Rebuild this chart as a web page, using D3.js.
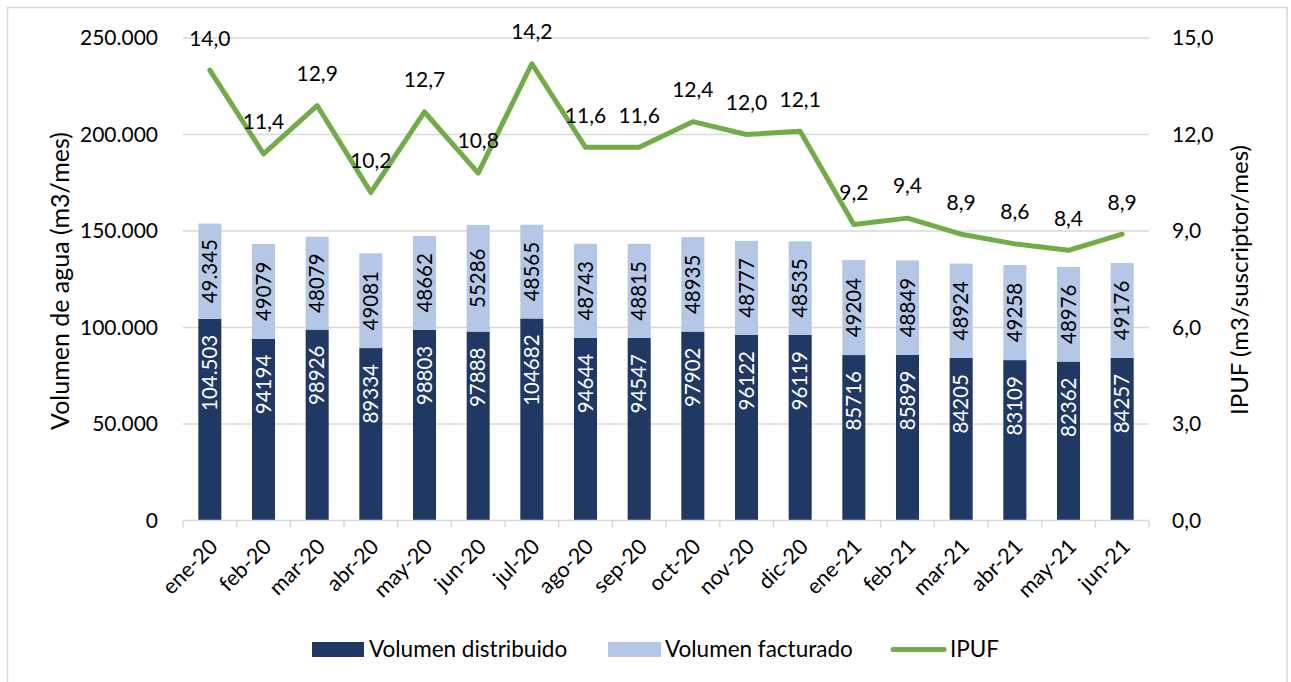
<!DOCTYPE html>
<html><head><meta charset="utf-8">
<script src="https://cdn.jsdelivr.net/npm/d3@7"></script>
<style>
html,body{margin:0;padding:0;background:#fff;}
svg{display:block;font-family:Lato, "Open Sans", sans-serif;}
</style></head>
<body>
<svg id="chart" width="1291" height="682"></svg>
<script>
const months = ["ene-20","feb-20","mar-20","abr-20","may-20","jun-20","jul-20","ago-20","sep-20","oct-20","nov-20","dic-20","ene-21","feb-21","mar-21","abr-21","may-21","jun-21"];
const distribuido = [104503,94194,98926,89334,98803,97888,104682,94644,94547,97902,96122,96119,85716,85899,84205,83109,82362,84257];
const facturado = [49345,49079,48079,49081,48662,55286,48565,48743,48815,48935,48777,48535,49204,48849,48924,49258,48976,49176];
const ipuf = [14.0,11.4,12.9,10.2,12.7,10.8,14.2,11.6,11.6,12.4,12.0,12.1,9.2,9.4,8.9,8.6,8.4,8.9];
const leftTicks = [0,50000,100000,150000,200000,250000];
const rightTicks = [0,3,6,9,12,15];
const seriesNames = ["Volumen distribuido","Volumen facturado","IPUF"];
const colors = {dark:"#203864", light:"#B4C7E7", green:"#70AD47", grid:"#D9D9D9"};

const loc = d3.formatLocale({decimal:",", thousands:".", grouping:[3], currency:["$",""]});
const fmtThousands = loc.format(",.0f");
const fmt1 = loc.format(".1f");
const fmtPlain = d3.format("d");

const svg = d3.select("#chart");
svg.append("rect").attr("x",0).attr("y",0).attr("width",1291).attr("height",682).attr("fill","#fff");
svg.append("rect").attr("x",7.5).attr("y",7.5).attr("width",1279.5).attr("height",700)
  .attr("fill","none").attr("stroke","#D9D9D9").attr("stroke-width",1.5);

const pLeft = 183, pRight = 1149, pTop = 38, pBottom = 520.5;
const x = d3.scaleBand().domain(months).range([pLeft,pRight]).paddingInner(0.571).paddingOuter(0.2855);
const yL = d3.scaleLinear().domain([0,250000]).range([pBottom,pTop]);
const yR = d3.scaleLinear().domain([0,15]).range([pBottom,pTop]);
const fsTick = 21, fsBar = 20.5, fsLine = 21, fsX = 21.5, fsLeg = 22.5;

// gridlines
svg.append("g").selectAll("line").data(leftTicks.filter(d=>d>0)).join("line")
  .attr("x1",pLeft).attr("x2",pRight).attr("y1",d=>yL(d)).attr("y2",d=>yL(d))
  .attr("stroke",colors.grid).attr("stroke-width",1.3);

// left axis
const gL = svg.append("g").attr("transform",`translate(${pLeft-25},0)`)
  .call(d3.axisLeft(yL).tickValues(leftTicks).tickFormat(fmtThousands).tickSize(0).tickPadding(0));
gL.select(".domain").remove();
gL.selectAll("text").attr("font-size",fsTick).attr("font-family","Lato").attr("fill","#000");

// right axis
const gR = svg.append("g").attr("transform",`translate(${pRight+23},0)`)
  .call(d3.axisRight(yR).tickValues(rightTicks).tickFormat(fmt1).tickSize(0).tickPadding(0));
gR.select(".domain").remove();
gR.selectAll("text").attr("font-size",fsTick).attr("font-family","Lato").attr("fill","#000");

// bars
const step = x.step();
const bars = svg.append("g");
bars.selectAll("rect.d").data(months).join("rect").attr("class","d")
  .attr("x",d=>x(d)).attr("width",x.bandwidth())
  .attr("y",(d,i)=>yL(distribuido[i])).attr("height",(d,i)=>yL(0)-yL(distribuido[i]))
  .attr("fill",colors.dark);
bars.selectAll("rect.f").data(months).join("rect").attr("class","f")
  .attr("x",d=>x(d)).attr("width",x.bandwidth())
  .attr("y",(d,i)=>yL(distribuido[i]+facturado[i])).attr("height",(d,i)=>yL(distribuido[i])-yL(distribuido[i]+facturado[i]))
  .attr("fill",colors.light);

// x axis line + ticks
const gX = svg.append("g").attr("transform",`translate(0,${pBottom})`)
  .call(d3.axisBottom(x).tickSize(0).tickFormat(""));
gX.select(".domain").attr("stroke",colors.grid).attr("stroke-width",1.5).attr("d",`M${pLeft},0H${pRight}`);
gX.selectAll(".tick").remove();
const bounds = d3.range(months.length+1).map(i=>pLeft+i*step);
svg.append("g").selectAll("line").data(bounds).join("line")
  .attr("x1",d=>d).attr("x2",d=>d).attr("y1",pBottom).attr("y2",pBottom+7)
  .attr("stroke",colors.grid).attr("stroke-width",1.5);

// x labels
svg.append("g").selectAll("text").data(months).join("text")
  .attr("transform",d=>`translate(${x(d)+x.bandwidth()/2+4},${pBottom+22}) rotate(-45)`)
  .attr("text-anchor","end").attr("dy","0.35em").attr("font-size",fsX).attr("fill","#000")
  .text(d=>d);

// bar labels
const cx = d=>x(d)+x.bandwidth()/2;
svg.append("g").selectAll("text").data(months).join("text")
  .attr("transform",(d,i)=>`translate(${cx(d)},${yL(distribuido[i])+16}) rotate(-90)`)
  .attr("text-anchor","end").attr("dy","0.35em").attr("font-size",fsBar).attr("fill","#fff")
  .text((d,i)=>i===0?fmtThousands(distribuido[i]):fmtPlain(distribuido[i]));
svg.append("g").selectAll("text").data(months).join("text")
  .attr("transform",(d,i)=>`translate(${cx(d)},${(yL(distribuido[i])+yL(distribuido[i]+facturado[i]))/2}) rotate(-90)`)
  .attr("text-anchor","middle").attr("dy","0.35em").attr("font-size",fsBar).attr("fill","#000")
  .text((d,i)=>i===0?fmtThousands(facturado[i]):fmtPlain(facturado[i]));

// line
const line = d3.line().x((d,i)=>cx(months[i])).y(d=>yR(d));
svg.append("path").datum(ipuf).attr("d",line).attr("fill","none")
  .attr("stroke",colors.green).attr("stroke-width",5).attr("stroke-linejoin","round").attr("stroke-linecap","round");
svg.append("g").selectAll("text").data(ipuf).join("text")
  .attr("x",(d,i)=>cx(months[i])).attr("y",d=>yR(d)-32).attr("dy","0.35em")
  .attr("text-anchor","middle").attr("font-size",fsLine).attr("fill","#000").text(d=>fmt1(d));

// axis titles
svg.append("text").attr("transform",`translate(60,281) rotate(-90)`).attr("text-anchor","middle")
  .attr("dy","0.35em").attr("font-size",25).attr("fill","#000").text("Volumen de agua (m3/mes)");
svg.append("text").attr("transform",`translate(1240,280) rotate(-90)`).attr("text-anchor","middle")
  .attr("dy","0.35em").attr("font-size",24).attr("fill","#000").text("IPUF (m3/suscriptor/mes)");

// legend
const lg = svg.append("g");
const ly = 649.5;
lg.append("rect").attr("x",312).attr("y",ly-7.5).attr("width",52).attr("height",15).attr("fill",colors.dark);
lg.append("text").attr("x",369).attr("y",ly).attr("dy","0.35em").attr("font-size",fsLeg).text(seriesNames[0]);
lg.append("rect").attr("x",608).attr("y",ly-7.5).attr("width",53).attr("height",15).attr("fill",colors.light);
lg.append("text").attr("x",665).attr("y",ly).attr("dy","0.35em").attr("font-size",fsLeg).text(seriesNames[1]);
lg.append("line").attr("x1",893).attr("x2",944).attr("y1",ly).attr("y2",ly)
  .attr("stroke",colors.green).attr("stroke-width",5).attr("stroke-linecap","round");
lg.append("text").attr("x",950).attr("y",ly).attr("dy","0.35em").attr("font-size",fsLeg).text(seriesNames[2]);
</script>
</body></html>
